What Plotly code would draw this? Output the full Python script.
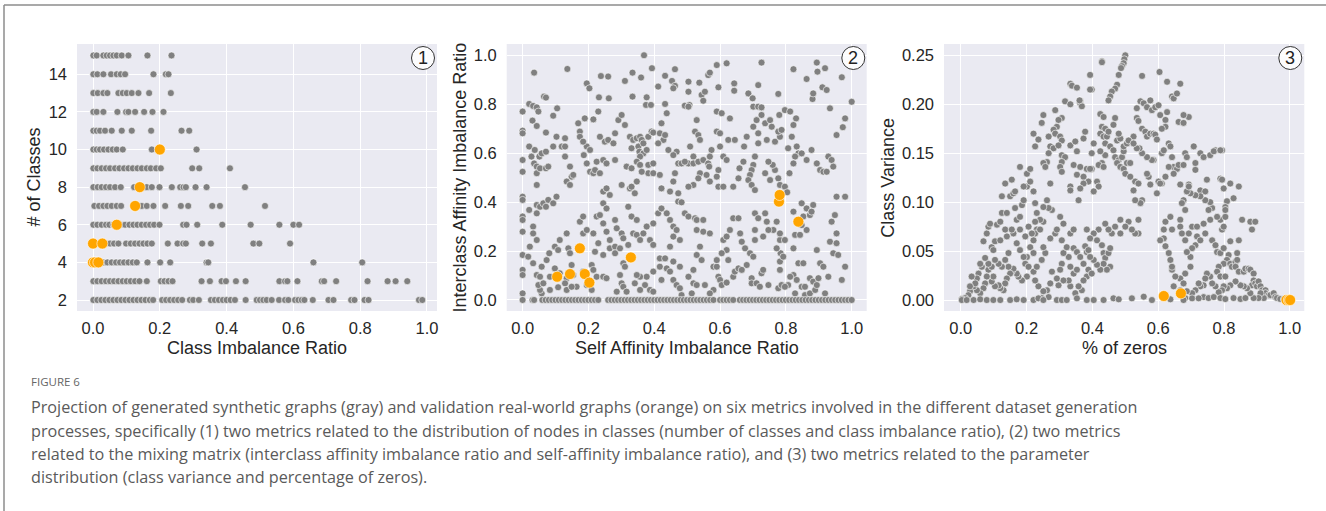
import plotly.graph_objects as go

# ---------------- Panel 1 data: Class Imbalance Ratio per # of classes ----------------
ratio_k15 = [0.001,0.011,0.031,0.041,0.051,0.061,0.071,0.086,0.106,0.163,0.235]
ratio_k14 = [0.001,0.013,0.031,0.054,0.071,0.083,0.096,0.181,0.218,0.226]
ratio_k13 = [0.001,0.014,0.031,0.043,0.076,0.089,0.101,0.116,0.136,0.168,0.233]
ratio_k12 = [0.001,0.011,0.031,0.073,0.099,0.106,0.126,0.153,0.178,0.211]
ratio_k11 = [0.001,0.011,0.021,0.036,0.056,0.086,0.116,0.174,0.265,0.288]
ratio_k10 = [0.001,0.011,0.021,0.033,0.046,0.059,0.071,0.089,0.176,0.31]
ratio_k9 = [0.001,0.013,0.026,0.039,0.051,0.066,0.079,0.093,0.106,0.119,0.133,0.146,0.161,0.173,0.189,0.203,0.297,0.318,0.41]
ratio_k8 = [0.001,0.014,0.026,0.039,0.051,0.066,0.083,0.123,0.15,0.161,0.176,0.199,0.236,0.261,0.271,0.278,0.307,0.340,0.455]
ratio_k7 = [0.004,0.018,0.031,0.043,0.056,0.071,0.084,0.146,0.161,0.181,0.216,0.263,0.285,0.357,0.380,0.515]
ratio_k6 = [0.001,0.013,0.026,0.039,0.049,0.061,0.083,0.096,0.109,0.121,0.133,0.146,0.159,0.171,0.183,0.199,
            0.27,0.28,0.312,0.387,0.472,0.558,0.6,0.617]
ratio_k5 = [0.039,0.051,0.063,0.076,0.099,0.113,0.126,0.139,0.151,0.163,0.176,0.224,0.253,0.27,0.278,0.327,
            0.353,0.48,0.498,0.59]
ratio_k4 = [0.031,0.043,0.056,0.069,0.081,0.093,0.106,0.119,0.131,0.163,0.201,0.231,0.34,0.345,0.66,0.806]
ratio_k3 = [0.001,0.013,0.026,0.039,0.051,0.063,0.076,0.089,0.101,0.113,0.126,0.139,0.161,0.203,0.214,0.226,
            0.238,0.325,0.350,0.385,0.398,0.428,0.457,0.558,0.575,0.582,0.612,0.685,0.692,0.728,0.822,0.882,
            0.906,0.941]
ratio_k2 = [0.001,0.013,0.025,0.037,0.049,0.061,0.073,0.085,0.097,0.109,0.121,0.133,0.145,0.157,0.17,0.18,
            0.207,0.219,0.231,0.243,0.255,0.267,0.29,0.3,0.317,0.353,0.365,0.377,0.389,0.40,0.412,0.425,
            0.457,0.49,0.5,0.51,0.52,0.535,0.557,0.575,0.585,0.605,0.615,0.625,0.633,0.658,0.705,0.72,
            0.773,0.783,0.813,0.825,0.976,0.986]

real1_ratio = [0.2, 0.14, 0.126, 0.071, 0.0, 0.028, 0.0, 0.006, 0.016]
real1_classes = [10, 8, 7, 6, 5, 5, 4, 4, 4]

# ---------------- Panel 2 data: Self vs Interclass affinity imbalance ratio ----------------
syn2_self = [
 0.369,0.035,0.136,0.195,0.203,0.238,0.260,0.232,0.262,0.311,0.334,0.360,0.334,0.377,0.375,0.390,0.393,0.412,
 0.433,0.454,0.463,0.458,0.463,0.433,0.504,0.504,0.493,0.507,0.537,0.544,0.554,0.549,0.564,0.569,0.590,0.595,
 0.620,0.643,0.643,0.686,0.699,0.716,0.726,0.701,0.716,0.726,0.777,0.823,0.863,0.881,0.883,0.894,0.896,0.919,
 0.911,0.924,0.934,0.970,1.000,0.980,0.973,0.954,0.0,0.020,0.032,0.043,0.065,0.071,0.093,0.105,0.048,0.030,
 0.043,0.071,0.103,0.0,0.0,0.119,0.129,
 0.0,0.0,0.0,0.0,0.0,0.0,0.0,0.0,0.0,0.0,0.0,
 0.020,0.037,0.027,0.035,0.043,0.043,0.053,0.071,0.078,0.051,0.043,0.020,0.043,0.053,0.063,0.071,0.078,0.093,
 0.103,0.058,0.071,0.093,0.129,0.129,0.144,0.149,0.154,0.134,0.144,
 0.169,0.174,0.174,0.189,0.195,0.205,0.184,0.186,0.195,0.205,0.215,0.220,0.225,0.245,0.245,0.255,0.235,0.255,
 0.265,0.281,0.291,0.301,0.311,0.281,0.250,0.260,0.276,0.235,0.215,0.230,0.316,0.301,
 0.326,0.336,0.331,0.347,0.352,0.355,0.357,0.362,0.367,0.357,0.367,0.377,0.382,0.392,0.397,0.417,0.422,0.438,
 0.428,0.433,0.412,0.347,0.331,0.357,0.382,0.397,0.382,0.362,0.347,0.326,0.341,0.331,0.397,0.417,0.443,0.468,
 0.458,0.473,0.483,0.458,0.463,0.422,0.473,0.448,0.473,0.483,
 0.504,0.529,0.524,0.534,0.539,0.509,0.519,0.504,0.493,0.519,0.534,0.549,0.564,0.567,0.539,0.559,0.534,0.519,
 0.504,0.569,0.590,0.595,0.574,0.600,0.610,0.620,0.595,0.610,0.569,0.625,0.645,0.590,0.605,0.630,0.590,0.600,
 0.726,0.711,0.701,0.737,0.752,0.757,0.767,0.742,0.716,0.716,0.706,0.701,0.696,0.691,0.686,0.696,0.706,0.659,
 0.656,0.640,0.671,0.673,0.681,0.782,0.777,0.787,0.780,0.797,0.813,0.831,0.823,0.818,0.807,0.833,0.838,0.828,
 0.823,0.811,0.767,0.760,0.747,0.737,0.752,0.777,0.782,0.797,0.804,0.848,0.863,0.878,0.894,0.904,0.914,0.924,
 0.929,0.939,0.944,0.954,0.980,0.848,0.863,0.883,
 0.032,0.043,0.032,0.043,0.022,0.017,0.032,0.043,0.053,0.058,0.073,0.081,0.098,0.108,0.113,0.134,0.139,0.144,
 0.149,0.154,0.164,0.134,0.113,0.098,0.083,0.058,0.053,0.048,0.063,0.083,0.108,0.129,0.134,0.149,
 0.174,0.184,0.184,0.195,0.215,0.225,0.235,0.245,0.255,0.245,0.255,0.265,0.265,0.245,0.230,0.220,0.210,0.215,
 0.225,0.245,0.255,0.184,0.195,0.210,0.281,0.286,0.301,0.306,0.281,0.281,0.296,0.306,0.311,0.296,0.301,0.306,
 0.316,0.286,
 0.321,0.331,0.347,0.336,0.347,0.321,0.357,0.367,0.387,0.397,0.377,0.397,0.412,0.422,0.438,0.448,0.458,0.468,
 0.458,0.478,0.448,0.417,0.433,0.417,0.438,0.448,0.458,0.478,0.397,0.377,0.372,0.357,0.347,0.341,0.357,0.387,
 0.397,0.422,0.458,0.468,0.478,0.483,
 0.493,0.504,0.524,0.529,0.549,0.529,0.549,0.569,0.539,0.529,0.544,0.519,0.504,0.519,0.529,0.554,0.580,0.590,
 0.595,0.600,0.605,0.620,0.640,0.645,0.656,0.625,0.620,0.605,0.610,0.620,0.630,0.640,0.656,0.661,0.666,0.590,
 0.580,0.569,0.514,
 0.676,0.691,0.701,0.681,0.666,0.696,0.696,0.711,0.726,0.731,0.721,0.747,0.777,0.787,0.782,0.782,0.784,0.792,
 0.772,0.782,0.797,0.782,0.762,0.742,0.747,0.731,0.706,0.706,0.706,0.716,0.737,0.772,0.823,0.828,0.823,0.838,
 0.853,0.823,0.813,0.807,0.797,0.848,0.858,0.833,0.828,0.858,0.873,0.883,0.873,0.889,0.894,0.899,0.863,0.848,
 0.843,0.853,0.873,0.878,0.894,0.904,0.914,0.919,0.929,0.934,0.939,0.949,0.954,0.954,0.944,0.959,0.980,0.970,
]
syn2_inter = [
 1.000,0.929,0.944,0.885,0.865,0.915,0.913,0.828,0.824,0.895,0.929,0.909,0.831,0.828,0.797,0.797,0.947,0.872,
 0.916,0.895,0.875,0.865,0.943,0.801,0.892,0.851,0.794,0.797,0.888,0.838,0.851,0.814,0.919,0.929,0.960,0.869,
 0.967,0.885,0.855,0.844,0.824,0.878,0.970,0.790,0.790,0.787,0.842,0.943,0.903,0.821,0.844,0.970,0.933,0.947,
 0.869,0.858,0.783,0.910,0.810,0.742,0.706,0.674,0.770,0.801,0.793,0.787,0.831,0.827,0.753,0.783,0.770,0.733,
 0.711,0.684,0.667,0.692,0.681,0.627,0.586,
 0.572,0.524,0.422,0.409,0.341,0.327,0.279,0.184,0.123,0.102,0.027,
 0.627,0.613,0.586,0.558,0.545,0.518,0.538,0.538,0.545,0.586,0.470,0.368,0.388,0.381,0.395,0.381,0.409,0.395,
 0.422,0.599,0.606,0.627,0.661,0.627,0.545,0.504,0.511,0.484,0.470,
 0.722,0.688,0.667,0.742,0.627,0.613,0.647,0.592,0.558,0.524,0.518,0.531,0.565,0.572,0.443,0.456,0.518,0.558,
 0.429,0.572,0.735,0.756,0.715,0.681,0.647,0.654,0.640,0.667,0.738,0.770,0.545,0.470,
 0.667,0.654,0.620,0.661,0.627,0.606,0.667,0.654,0.599,0.586,0.640,0.613,0.667,0.688,0.684,0.681,0.722,0.763,
 0.654,0.674,0.640,0.565,0.538,0.552,0.552,0.558,0.518,0.524,0.484,0.456,0.436,0.463,0.518,0.511,0.613,0.606,
 0.592,0.558,0.558,0.484,0.518,0.456,0.436,0.443,0.402,0.399,
 0.790,0.735,0.688,0.674,0.654,0.627,0.586,0.558,0.565,0.558,0.565,0.572,0.558,0.545,0.518,0.511,0.497,0.470,
 0.463,0.484,0.504,0.531,0.613,0.627,0.586,0.572,0.463,0.463,0.586,0.654,0.654,0.770,0.763,0.742,0.688,0.681,
 0.756,0.735,0.708,0.722,0.735,0.708,0.647,0.654,0.681,0.640,0.586,0.552,0.531,0.511,0.490,0.470,0.449,0.538,
 0.497,0.463,0.565,0.627,0.667,0.667,0.688,0.695,0.756,0.776,0.770,0.742,0.715,0.667,0.620,0.627,0.599,0.586,
 0.558,0.518,0.531,0.552,0.565,0.518,0.490,0.497,0.470,0.463,0.440,0.599,0.572,0.613,0.558,0.531,0.524,0.524,
 0.586,0.572,0.545,0.422,0.422,0.395,0.374,0.388,
 0.300,0.354,0.272,0.245,0.218,0.177,0.150,0.102,0.095,0.136,0.163,0.191,0.218,0.204,0.245,0.272,0.211,0.191,
 0.143,0.102,0.054,0.089,0.109,0.129,0.095,0.027,0.041,0.061,0.068,0.041,0.052,0.068,0.041,0.054,
 0.320,0.341,0.272,0.286,0.272,0.341,0.347,0.395,0.374,0.313,0.279,0.245,0.211,0.184,0.232,0.197,0.143,0.123,
 0.095,0.095,0.089,0.116,0.061,0.041,0.327,0.293,0.272,0.252,0.218,0.191,0.211,0.150,0.136,0.102,0.068,0.054,
 0.034,0.034,
 0.381,0.341,0.327,0.272,0.266,0.225,0.245,0.272,0.245,0.225,0.300,0.313,0.354,0.374,0.354,0.327,0.300,0.286,
 0.259,0.245,0.218,0.170,0.170,0.136,0.129,0.116,0.157,0.136,0.116,0.095,0.061,0.095,0.102,0.068,0.041,0.041,
 0.034,0.082,0.082,0.061,0.048,0.020,
 0.354,0.341,0.334,0.327,0.327,0.286,0.279,0.272,0.218,0.184,0.163,0.123,0.095,0.068,0.061,0.061,0.136,0.136,
 0.095,0.082,0.061,0.071,0.095,0.116,0.129,0.163,0.204,0.191,0.245,0.259,0.286,0.334,0.334,0.272,0.238,0.163,
 0.041,0.027,0.027,
 0.211,0.191,0.177,0.143,0.123,0.089,0.068,0.068,0.109,0.123,0.054,0.061,0.048,0.061,0.123,0.157,0.191,0.177,
 0.211,0.245,0.245,0.272,0.286,0.320,0.286,0.259,0.245,0.286,0.354,0.334,0.354,0.320,0.361,0.266,0.211,0.150,
 0.150,0.102,0.095,0.061,0.054,0.054,0.054,0.082,0.027,0.020,0.089,0.075,0.027,0.041,0.061,0.089,0.286,0.306,
 0.266,0.341,0.347,0.361,0.204,0.150,0.136,0.027,0.095,0.238,0.320,0.347,0.232,0.272,0.191,0.184,0.136,0.082,
]
# points sitting on the zero line of the interclass ratio
syn2_self_zero = [0.0,0.03,0.035,0.06,0.07,0.08,0.09,0.10,0.11,0.12,0.13,0.14,0.15,0.16,0.17,0.18,0.19,0.20,
 0.21,0.22,0.23,0.26,0.27,0.28,0.29,0.30,0.31,0.32,0.33,0.34,0.35,0.36,0.37,0.38,0.39,0.40,0.41,0.42,0.43,
 0.44,0.45,0.46,0.47,0.48,0.49,0.50,0.51,0.52,0.53,0.54,0.55,0.56,0.57,0.58,0.60,0.61,0.62,0.63,0.64,0.66,
 0.67,0.68,0.69,0.70,0.71,0.72,0.73,0.74,0.75,0.76,0.77,0.78,0.79,0.80,0.81,0.82,0.83,0.84,0.85,0.86,0.87,
 0.88,0.89,0.90,0.91,0.92,0.93,0.94,0.95,0.96,0.97,0.98,0.99,1.0]

real2_self = [0.105, 0.144, 0.174, 0.189, 0.203, 0.329, 0.779, 0.781, 0.838]
real2_inter = [0.095, 0.106, 0.211, 0.106, 0.071, 0.174, 0.402, 0.429, 0.320]

# ---------------- Panel 3 data: % of zeros vs class variance ----------------
syn3_pts = [
 (0.500,0.250),(0.497,0.246),(0.495,0.242),(0.490,0.239),(0.487,0.237),(0.429,0.244),(0.429,0.243),(0.393,0.230),
 (0.480,0.230),(0.475,0.220),(0.469,0.216),(0.459,0.213),(0.454,0.208),(0.449,0.204),(0.469,0.186),(0.398,0.215),
 (0.393,0.215),(0.333,0.221),(0.338,0.219),(0.353,0.217),(0.363,0.204),(0.363,0.201),(0.368,0.198),(0.361,0.204),
 (0.317,0.203),(0.333,0.200),(0.287,0.194),(0.307,0.186),(0.297,0.184),(0.292,0.177),(0.251,0.189),(0.246,0.181),
 (0.221,0.170),(0.236,0.164),(0.226,0.157),(0.282,0.174),(0.287,0.170),(0.267,0.167),(0.272,0.157),(0.282,0.155),
 (0.267,0.150),(0.262,0.141),(0.251,0.140),(0.257,0.136),(0.302,0.167),(0.307,0.163),(0.297,0.158),(0.307,0.148),
 (0.317,0.146),(0.307,0.141),(0.302,0.136),(0.307,0.131),(0.333,0.158),(0.348,0.162),(0.353,0.152),(0.343,0.138),
 (0.353,0.128),(0.333,0.116),(0.333,0.112),(0.373,0.165),(0.378,0.172),(0.363,0.136),(0.373,0.126),(0.383,0.134),
 (0.398,0.134),(0.388,0.121),(0.373,0.119),(0.363,0.114),(0.358,0.102),(0.424,0.190),(0.434,0.187),(0.429,0.177),
 (0.439,0.175),(0.424,0.170),(0.434,0.167),(0.444,0.167),(0.449,0.172),(0.439,0.160),(0.439,0.148),(0.424,0.152),
 (0.429,0.140),(0.419,0.138),(0.434,0.136),(0.404,0.160),(0.398,0.150),(0.393,0.134),(0.414,0.121),(0.419,0.116),
 (0.404,0.111),(0.454,0.157),(0.464,0.153),(0.469,0.146),(0.480,0.143),(0.475,0.140),(0.485,0.136),(0.495,0.134),
 (0.500,0.129),(0.505,0.140),(0.515,0.140),(0.490,0.146),(0.495,0.152),(0.495,0.157),(0.505,0.160),(0.525,0.167),
 (0.510,0.163),(0.475,0.163),(0.485,0.165),(0.480,0.170),(0.464,0.179),(0.535,0.196),(0.546,0.203),(0.556,0.201),
 (0.566,0.197),(0.576,0.204),(0.581,0.194),(0.591,0.197),(0.601,0.199),(0.606,0.189),(0.627,0.192),(0.622,0.184),
 (0.622,0.177),(0.611,0.175),(0.551,0.229),(0.535,0.186),(0.540,0.183),(0.551,0.175),(0.561,0.172),(0.566,0.167),
 (0.576,0.170),(0.586,0.170),(0.591,0.169),(0.596,0.164),(0.586,0.143),(0.581,0.143),(0.566,0.146),(0.551,0.150),
 (0.543,0.155),(0.535,0.155),(0.525,0.160),(0.604,0.233),(0.627,0.223),(0.642,0.208),(0.647,0.206),(0.657,0.211),
 (0.667,0.221),(0.662,0.182),(0.677,0.181),(0.693,0.187),(0.677,0.189),(0.611,0.150),(0.617,0.153),(0.632,0.160),
 (0.637,0.157),(0.642,0.146),(0.647,0.136),(0.632,0.136),(0.622,0.126),(0.611,0.119),(0.601,0.121),(0.596,0.109),
 (0.606,0.119),(0.571,0.126),(0.576,0.118),(0.566,0.129),(0.530,0.121),(0.540,0.119),(0.551,0.102),(0.546,0.099),
 (0.530,0.102),(0.525,0.112),(0.515,0.126),(0.682,0.150),(0.687,0.146),(0.708,0.157),(0.728,0.150),(0.738,0.146),
 (0.713,0.140),(0.713,0.133),(0.728,0.112),(0.743,0.111),(0.748,0.123),(0.758,0.148),(0.774,0.153),(0.769,0.152),
 (0.794,0.153),(0.789,0.153),(0.789,0.124),(0.794,0.123),(0.799,0.114),(0.819,0.119),(0.845,0.116),(0.829,0.104),
 (0.809,0.101),(0.804,0.095),(0.764,0.094),(0.753,0.092),(0.758,0.100),(0.743,0.102),(0.728,0.106),(0.713,0.107),
 (0.698,0.109),(0.687,0.111),(0.693,0.118),(0.667,0.118),(0.657,0.134),(0.647,0.129),(0.662,0.138),(0.677,0.138),
 (0.693,0.116),(0.677,0.102),(0.672,0.099),(0.682,0.092),(0.794,0.072),(0.799,0.075),(0.789,0.082),(0.804,0.085),
 (0.804,0.092),(0.819,0.060),(0.840,0.048),(0.845,0.061),(0.855,0.082),(0.885,0.072),(0.880,0.080),(0.895,0.080),
 (0.718,0.065),(0.713,0.056),(0.728,0.061),(0.743,0.068),(0.764,0.061),(0.774,0.056),(0.779,0.049),(0.789,0.048),
 (0.799,0.053),(0.814,0.046),(0.809,0.041),(0.799,0.037),(0.784,0.034),(0.779,0.029),(0.789,0.024),(0.804,0.024),
 (0.819,0.037),(0.824,0.034),(0.835,0.039),(0.840,0.041),(0.835,0.034),(0.845,0.029),(0.860,0.029),(0.865,0.032),
 (0.875,0.032),(0.880,0.031),(0.890,0.027),(0.890,0.020),(0.885,0.015),(0.895,0.017),(0.900,0.014),(0.905,0.019),
 (0.911,0.014),(0.916,0.010),(0.926,0.010),(0.926,0.007),(0.936,0.005),(0.941,0.005),(0.951,0.007),(0.956,0.003),
 (0.961,0.002),(0.971,0.001),(0.982,0.001),(0.921,0.002),(0.911,0.007),(0.905,0.002),(0.890,0.002),(0.880,0.007),
 (0.870,0.012),(0.860,0.014),(0.850,0.015),(0.835,0.019),(0.819,0.015),(0.809,0.012),(0.799,0.014),(0.794,0.010),
 (0.784,0.008),(0.774,0.014),(0.764,0.017),(0.758,0.024),(0.748,0.027),(0.743,0.022),(0.738,0.015),(0.728,0.014),
 (0.723,0.017),(0.713,0.010),(0.703,0.007),(0.687,0.009),(0.682,0.002),(0.738,0.003),(0.753,0.002),(0.769,0.003),
 (0.789,0.002),(0.804,0.001),(0.829,0.002),(0.850,0.001),(0.865,0.002),(0.698,0.044),(0.703,0.053),(0.687,0.049),
 (0.698,0.034),(0.682,0.027),(0.667,0.022),(0.677,0.017),(0.667,0.010),(0.647,0.014),(0.652,0.024),(0.642,0.031),
 (0.642,0.034),(0.637,0.041),(0.632,0.048),(0.622,0.055),(0.617,0.063),(0.606,0.061),(0.617,0.072),(0.622,0.080),
 (0.637,0.085),(0.642,0.072),(0.667,0.082),(0.667,0.075),(0.672,0.068),(0.682,0.061),(0.693,0.068),(0.703,0.075),
 (0.718,0.075),(0.738,0.078),(0.758,0.082),(0.779,0.085),(0.540,0.082),(0.540,0.068),(0.530,0.068),(0.520,0.072),
 (0.510,0.080),(0.500,0.075),(0.485,0.082),(0.485,0.068),(0.469,0.075),(0.459,0.068),(0.449,0.072),(0.439,0.078),
 (0.419,0.072),(0.404,0.068),(0.393,0.063),(0.383,0.072),(0.378,0.055),(0.383,0.049),(0.388,0.051),(0.414,0.061),
 (0.429,0.056),(0.434,0.048),(0.439,0.043),(0.449,0.048),(0.454,0.053),(0.454,0.034),(0.444,0.031),(0.434,0.037),
 (0.424,0.031),(0.414,0.036),(0.404,0.041),(0.393,0.044),(0.388,0.031),(0.383,0.024),(0.398,0.027),(0.373,0.020),
 (0.368,0.010),(0.358,0.014),(0.348,0.007),(0.333,0.014),(0.328,0.020),(0.343,0.027),(0.353,0.031),(0.333,0.034),
 (0.328,0.044),(0.312,0.048),(0.307,0.037),(0.302,0.031),(0.312,0.020),(0.297,0.015),(0.292,0.022),(0.277,0.029),
 (0.272,0.017),(0.262,0.010),(0.267,0.003),(0.246,0.002),(0.251,0.009),(0.236,0.014),(0.226,0.020),(0.221,0.029),
 (0.231,0.034),(0.246,0.041),(0.257,0.048),(0.251,0.054),(0.272,0.063),(0.287,0.068),(0.292,0.072),(0.307,0.061),
 (0.322,0.054),(0.343,0.053),(0.353,0.049),(0.363,0.044),(0.373,0.037),(0.333,0.068),(0.343,0.072),(0.312,0.078),
 (0.302,0.085),(0.277,0.092),(0.267,0.094),(0.251,0.080),(0.231,0.072),(0.226,0.068),(0.221,0.061),(0.211,0.054),
 (0.221,0.048),(0.201,0.044),(0.196,0.037),(0.206,0.034),(0.201,0.024),(0.186,0.020),(0.175,0.024),(0.170,0.027),
 (0.155,0.029),(0.160,0.032),(0.145,0.034),(0.150,0.027),(0.140,0.022),(0.135,0.017),(0.130,0.010),(0.120,0.012),
 (0.115,0.015),(0.104,0.014),(0.094,0.019),(0.099,0.024),(0.084,0.031),(0.079,0.024),(0.074,0.017),(0.069,0.012),
 (0.059,0.007),(0.049,0.010),(0.039,0.014),(0.028,0.009),(0.023,0.005),(0.013,0.002),(0.003,0.001),(0.069,0.060),
 (0.079,0.068),(0.084,0.075),(0.089,0.078),(0.094,0.054),(0.099,0.051),(0.104,0.060),(0.110,0.077),(0.120,0.080),
 (0.125,0.089),(0.140,0.089),(0.150,0.106),(0.160,0.109),(0.165,0.111),(0.165,0.094),(0.170,0.082),(0.180,0.085),
 (0.186,0.097),(0.191,0.102),(0.201,0.116),(0.211,0.121),(0.221,0.111),(0.226,0.099),(0.231,0.089),(0.241,0.082),
 (0.241,0.072),(0.251,0.095),(0.262,0.102),(0.272,0.119),(0.160,0.068),(0.170,0.058),(0.180,0.051),(0.191,0.044),
 (0.145,0.048),(0.135,0.041),(0.125,0.034),(0.115,0.037),(0.104,0.041),(0.094,0.034),(0.084,0.037),(0.074,0.043),
 (0.064,0.034),(0.059,0.037),(0.054,0.027),(0.049,0.022),(0.044,0.017),(0.033,0.024),(0.028,0.014),(0.120,0.061),
 (0.140,0.065),(0.135,0.072),(0.155,0.072),(0.180,0.072),(0.206,0.075),(0.216,0.068),(0.226,0.080),(0.196,0.065),
 (0.125,0.106),(0.135,0.119),(0.155,0.123),(0.180,0.136),(0.191,0.116),(0.201,0.129),(0.211,0.134),
 (0.003,0.0),(0.018,0.0),(0.039,0.0),(0.059,0.0007),(0.079,0.0),(0.099,0.0),(0.120,0.0),(0.150,0.0),(0.170,0.0007),
 (0.191,0.0),(0.221,0.0),(0.236,0.0017),(0.251,0.0),(0.292,0.0),(0.307,0.0),(0.322,0.0),(0.353,0.0017),(0.383,0.0),
 (0.404,0.0),(0.434,0.0),(0.464,0.0017),(0.480,0.0007),(0.520,0.0017),(0.556,0.0034),(0.581,0.0),(0.637,0.0007),
 (0.677,0.0),(0.703,0.0017),(0.723,0.0017),
]
real3_zeros = [0.617, 0.669, 0.990, 0.997, 1.001]
real3_var = [0.0041, 0.0068, 0.0, 0.0, 0.0]

x_ticks = [0.0, 0.2, 0.4, 0.6, 0.8, 1.0]
y1_ticks = [2, 4, 6, 8, 10, 12, 14]
y2_ticks = [0.0, 0.2, 0.4, 0.6, 0.8, 1.0]
y3_ticks = [0.0, 0.05, 0.10, 0.15, 0.20, 0.25]

caption_label = "FIGURE 6"
caption_lines = [
    "Projection of generated synthetic graphs (gray) and validation real-world graphs (orange) on six metrics involved in the different dataset generation",
    "processes, specifically (1) two metrics related to the distribution of nodes in classes (number of classes and class imbalance ratio), (2) two metrics",
    "related to the mixing matrix (interclass affinity imbalance ratio and self-affinity imbalance ratio), and (3) two metrics related to the parameter",
    "distribution (class variance and percentage of zeros).",
]

# ---------------- build ----------------
rows1 = {15: ratio_k15, 14: ratio_k14, 13: ratio_k13, 12: ratio_k12, 11: ratio_k11, 10: ratio_k10, 9: ratio_k9,
         8: ratio_k8, 7: ratio_k7, 6: ratio_k6, 5: ratio_k5, 4: ratio_k4, 3: ratio_k3, 2: ratio_k2}
syn1_x, syn1_y = [], []
for k, vals in rows1.items():
    syn1_x += vals
    syn1_y += [k] * len(vals)

syn2_x = syn2_self + syn2_self_zero
syn2_y = syn2_inter + [0.0] * len(syn2_self_zero)
syn3_x = [p[0] for p in syn3_pts]
syn3_y = [p[1] for p in syn3_pts]

W, H = 1326, 511
GRAY = "#808080"
ORANGE = "#FFA500"
BG = "#EAEAF2"
FONT = "Liberation Sans, Arial, sans-serif"
TXT = "#262626"

gray_marker = dict(color=GRAY, size=7, line=dict(color="white", width=0.6))
orange_marker = dict(color=ORANGE, size=11, line=dict(color="white", width=0.6))

fig = go.Figure()
panels = [
    ("x", "y", syn1_x, syn1_y, real1_ratio, real1_classes),
    ("x2", "y2", syn2_x, syn2_y, real2_self, real2_inter),
    ("x3", "y3", syn3_x, syn3_y, real3_zeros, real3_var),
]
for xa, ya, sx, sy, rx, ry in panels:
    fig.add_trace(go.Scatter(x=sx, y=sy, mode="markers", marker=gray_marker, xaxis=xa, yaxis=ya,
                             showlegend=False, hoverinfo="skip", cliponaxis=False))
    fig.add_trace(go.Scatter(x=rx, y=ry, mode="markers", marker=orange_marker, xaxis=xa, yaxis=ya,
                             showlegend=False, hoverinfo="skip", cliponaxis=False))

def px_x(p):
    return p / W

def px_y(p):
    return 1 - p / H

ydom = [px_y(311), px_y(44)]
xdoms = [[px_x(77), px_x(437)], [px_x(506.7), px_x(866.7)], [px_x(944), px_x(1304.3)]]
xranges = [[-0.048, 1.030], [-0.0483, 1.0456], [-0.051, 1.044]]
yranges = [[1.415, 15.61], [-0.045, 1.046], [-0.0112, 0.2616]]
yticks = [(y1_ticks, [str(v) for v in y1_ticks]),
          (y2_ticks, ["%.1f" % v for v in y2_ticks]),
          (y3_ticks, ["%.2f" % v for v in y3_ticks])]

axis_common = dict(showgrid=True, gridcolor="white", gridwidth=1, zeroline=False, showline=False,
                   ticks="", tickfont=dict(family=FONT, size=16.5, color=TXT))
layout_axes = {}
for i in range(3):
    sfx = "" if i == 0 else str(i + 1)
    anchor_y = "y" + sfx
    anchor_x = "x" + sfx
    layout_axes["xaxis" + sfx] = dict(domain=xdoms[i], range=xranges[i], anchor=anchor_y,
                                      tickvals=x_ticks, ticktext=["%.1f" % v for v in x_ticks],
                                      ticklabelstandoff=5, **axis_common)
    layout_axes["yaxis" + sfx] = dict(domain=ydom, range=yranges[i], anchor=anchor_x,
                                      tickvals=yticks[i][0], ticktext=yticks[i][1],
                                      ticklabelstandoff=9, **axis_common)

annotations = []
# axis titles
xtitles = [("Class Imbalance Ratio", 257), ("Self Affinity Imbalance Ratio", 686.7), ("% of zeros", 1124)]
for t, cx in xtitles:
    annotations.append(dict(text=t, x=px_x(cx), y=px_y(348), xref="paper", yref="paper", showarrow=False,
                            xanchor="center", yanchor="middle", font=dict(family=FONT, size=18, color=TXT)))
ytitles = [("# of Classes", 33), ("Interclass Affinity Imbalance Ratio", 459), ("Class Variance", 887.3)]
for t, cx in ytitles:
    annotations.append(dict(text=t, x=px_x(cx), y=px_y(177.5), xref="paper", yref="paper", showarrow=False,
                            xanchor="center", yanchor="middle", textangle=-90,
                            font=dict(family=FONT, size=18, color=TXT)))
# circled panel numbers
circles = [("1", 423), ("2", 853.3), ("3", 1290.3)]
shapes = []
for lab, cx in circles:
    shapes.append(dict(type="circle", xref="paper", yref="paper",
                       x0=px_x(cx - 11.5), x1=px_x(cx + 11.5), y0=px_y(69.5), y1=px_y(46.5),
                       fillcolor="rgba(255,255,255,0.85)", line=dict(color="#333333", width=1)))
    annotations.append(dict(text=lab, x=px_x(cx), y=px_y(58), xref="paper", yref="paper", showarrow=False,
                            xanchor="center", yanchor="middle", font=dict(family=FONT, size=18, color="#222222")))

# frame lines
shapes.append(dict(type="line", xref="paper", yref="paper", x0=px_x(4), x1=1.0, y0=px_y(5), y1=px_y(5),
                   line=dict(color="#8c8c8c", width=1.5)))
shapes.append(dict(type="line", xref="paper", yref="paper", x0=px_x(4), x1=px_x(4), y0=0.0, y1=px_y(5),
                   line=dict(color="#8c8c8c", width=1.5)))

# caption
CAP_FONT = "Open Sans, Lato, sans-serif"
annotations.append(dict(text=caption_label, x=px_x(29), y=px_y(381.7), xref="paper", yref="paper",
                        showarrow=False, xanchor="left", yanchor="middle",
                        font=dict(family=CAP_FONT, size=11.5, color="#666666")))
for i, line in enumerate(caption_lines):
    cy = [406.7, 430.7, 454, 477.3][i]
    annotations.append(dict(text=line, x=px_x(29), y=px_y(cy), xref="paper", yref="paper",
                            showarrow=False, xanchor="left", yanchor="middle",
                            font=dict(family=CAP_FONT, size=16.2, color="#5a5a5a")))

fig.update_layout(width=W, height=H, margin=dict(l=0, r=0, t=0, b=0, pad=0),
                  paper_bgcolor="white", plot_bgcolor=BG, showlegend=False,
                  annotations=annotations, shapes=shapes, **layout_axes)

fig.write_html("out.html", config={"displayModeBar": False})
